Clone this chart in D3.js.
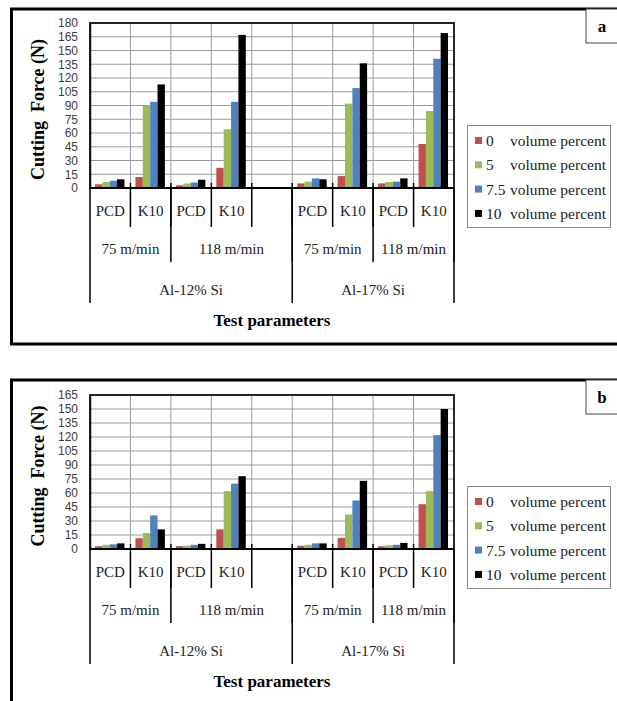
<!doctype html>
<html>
<head>
<meta charset="utf-8" />
<script src="https://cdnjs.cloudflare.com/ajax/libs/d3/7.8.5/d3.min.js"></script>
<style>
 body { margin: 0; background: #fff; }
 svg { display: block; }
 .serif { font-family: "Liberation Serif", "DejaVu Serif", serif; }
 .sans { font-family: "Liberation Sans", Arial, sans-serif; }
</style>
</head>
<body>
<script type="text/javascript">

 // category levels (empty slot between the two alloys)
 var tools = ["PCD", "K10", "PCD", "K10", "", "PCD", "K10", "PCD", "K10"];
 var speedLabels = ["75 m/min", "118 m/min", "75 m/min", "118 m/min"];
 var speedSpans = [2, 3, 2, 2];
 var alloyLabels = ["Al-12% Si", "Al-17% Si"];
 var alloySpans = [5, 4];

 var seriesNames = ["0", "5", "7.5", "10"];
 var seriesColors = ["#c0504d", "#9bbb59", "#4f81bd", "#000000"];

 // panel a
 var a0  = [4, 12, 3, 22, null, 5, 13, 5, 48];
 var a5  = [6.5, 90, 5, 64, null, 7, 92, 6.5, 84];
 var a75 = [8, 94, 6, 94, null, 10.5, 109, 7, 141];
 var a10 = [9.5, 113, 9, 167, null, 9.5, 136, 10.5, 169];
 var aTicks = d3.range(0, 181, 15);

 // panel b
 var b0  = [3, 11.5, 3, 21, null, 3.5, 12, 3, 48];
 var b5  = [4.5, 17, 3.5, 62, null, 4.5, 37, 4, 62];
 var b75 = [5, 36, 4.5, 70, null, 6, 52, 4.5, 122];
 var b10 = [6, 21, 5.5, 78, null, 6, 73, 6.5, 150];
 var bTicks = d3.range(0, 166, 15);

 var w = 617, h = 701;
 var svg = d3.select("body").append("svg")
	     .attr("width", w)
	     .attr("height", h);

 var draw_panel = function(top, bottom, y0, yTop, ticks, series, tag){
     var g = svg.append("g");

     // outer frame
     g.append("rect")
      .attr("x", 11.5).attr("y", top)
      .attr("width", 640).attr("height", bottom - top)
      .attr("fill", "none").attr("stroke", "#000").attr("stroke-width", 3);

     // tag box
     g.append("rect")
      .attr("x", 586).attr("y", top)
      .attr("width", 60).attr("height", 34)
      .attr("fill", "#fff").attr("stroke", "#444").attr("stroke-width", 1);
     g.append("text")
      .attr("class", "serif")
      .attr("x", 602).attr("y", top + 23)
      .attr("text-anchor", "middle")
      .attr("font-weight", "bold")
      .attr("font-size", 17).text(tag);

     var xScale = d3.scaleBand()
		    .domain(d3.range(tools.length))
		    .range([90, 454]);
     var bw = xScale.bandwidth();
     var x1 = d3.scaleBand()
		.domain(d3.range(series.length))
		.range([5, bw - 6]);
     var yScale = d3.scaleLinear()
		    .domain([0, d3.max(ticks)])
		    .range([y0, yTop]);

     // gridlines
     g.append("g").selectAll("line")
      .data(ticks.slice(1))
      .enter().append("line")
      .attr("x1", 90).attr("x2", 454)
      .attr("y1", function(d){ return yScale(d); })
      .attr("y2", function(d){ return yScale(d); })
      .attr("stroke", "#9a9a9a").attr("stroke-width", 1);
     g.append("g").selectAll("line")
      .data(d3.range(1, tools.length))
      .enter().append("line")
      .attr("x1", function(i){ return xScale(i); })
      .attr("x2", function(i){ return xScale(i); })
      .attr("y1", yTop).attr("y2", y0)
      .attr("stroke", "#9a9a9a").attr("stroke-width", 1);

     // plot border
     g.append("rect")
      .attr("x", 90).attr("y", yTop)
      .attr("width", 364).attr("height", y0 - yTop)
      .attr("fill", "none").attr("stroke", "#111").attr("stroke-width", 1.8);

     // bars (skip the empty slot)
     series.forEach(function(vals, s){
	 var pts = vals.map(function(v, i){ return {v: v, i: i}; })
		       .filter(function(p){ return p.v !== null; });
	 g.append("g").selectAll("rect")
	  .data(pts)
	  .enter()
	  .append("rect")
	  .attr("x", function(p){ return xScale(p.i) + x1(s); })
	  .attr("width", x1.bandwidth())
	  .attr("y", function(p){ return yScale(p.v); })
	  .attr("height", function(p){ return y0 - yScale(p.v); })
	  .attr("fill", seriesColors[s]);
     });

     // y axis
     var yAxis = d3.axisLeft(yScale).tickValues(ticks).tickSize(0).tickPadding(12);
     var ya = g.append("g").attr("transform", "translate(90,0)").call(yAxis);
     ya.attr("font-family", null).attr("font-size", null);
     ya.select(".domain").attr("stroke", "#111").attr("stroke-width", 1.5);
     ya.selectAll("text")
       .attr("class", "sans")
       .attr("font-size", 12).attr("fill", "#404040");

     g.append("text")
      .attr("class", "serif")
      .attr("transform", "translate(44," + ((y0 + yTop) / 2 + 4) + ") rotate(-90)")
      .attr("text-anchor", "middle")
      .attr("font-weight", "bold")
      .attr("font-size", 18)
      .style("white-space", "pre")
      .text("Cutting  Force (N)");

     // x axis line
     g.append("line")
      .attr("x1", 90).attr("x2", 454)
      .attr("y1", y0).attr("y2", y0)
      .attr("stroke", "#000").attr("stroke-width", 2);

     // level 1 separators and labels
     g.append("g").selectAll("line")
      .data(d3.range(1, tools.length))
      .enter().append("line")
      .attr("x1", function(i){ return xScale(i); })
      .attr("x2", function(i){ return xScale(i); })
      .attr("y1", y0 - 5).attr("y2", y0 + 39)
      .attr("stroke", "#000").attr("stroke-width", 1.5);
     g.append("g").selectAll("text")
      .data(tools)
      .enter().append("text")
      .attr("class", "serif")
      .attr("x", function(d, i){ return xScale(i) + bw / 2; })
      .attr("y", y0 + 28)
      .attr("text-anchor", "middle")
      .attr("font-size", 15).attr("fill", "#222")
      .text(function(d){ return d; });

     // level 2
     var pos = 0;
     speedLabels.forEach(function(lab, k){
	 var xa = xScale(pos), xb = xScale(pos + speedSpans[k] - 1) + bw;
	 pos += speedSpans[k];
	 g.append("line")
	  .attr("x1", xb).attr("x2", xb)
	  .attr("y1", y0).attr("y2", y0 + 74)
	  .attr("stroke", "#000").attr("stroke-width", 1.5);
	 g.append("text")
	  .attr("class", "serif")
	  .attr("x", (xa + xb) / 2).attr("y", y0 + 66)
	  .attr("text-anchor", "middle")
	  .attr("font-size", 15).attr("fill", "#222")
	  .text(lab);
     });

     // level 3
     pos = 0;
     var edges = [90];
     alloyLabels.forEach(function(lab, k){
	 var xa = xScale(pos), xb = xScale(pos + alloySpans[k] - 1) + bw;
	 pos += alloySpans[k];
	 edges.push(xb);
	 g.append("text")
	  .attr("class", "serif")
	  .attr("x", (xa + xb) / 2).attr("y", y0 + 107)
	  .attr("text-anchor", "middle")
	  .attr("font-size", 15).attr("fill", "#222")
	  .text(lab);
     });
     g.append("g").selectAll("line")
      .data(edges)
      .enter().append("line")
      .attr("x1", function(d){ return d; })
      .attr("x2", function(d){ return d; })
      .attr("y1", y0).attr("y2", y0 + 115)
      .attr("stroke", "#000").attr("stroke-width", 1.5);

     g.append("text")
      .attr("class", "serif")
      .attr("x", 272).attr("y", y0 + 138)
      .attr("text-anchor", "middle")
      .attr("font-weight", "bold")
      .attr("font-size", 17)
      .text("Test parameters");

     // legend
     var ly = y0 - 63;
     g.append("rect")
      .attr("x", 467.5).attr("y", ly + 0.5)
      .attr("width", 143).attr("height", 102)
      .attr("fill", "#fff").attr("stroke", "#8a8a8a").attr("stroke-width", 1);
     var items = g.append("g").selectAll("g")
		  .data(seriesNames)
		  .enter().append("g")
		  .attr("transform", function(d, i){ return "translate(0," + (ly + 16 + i * 24.3) + ")"; });
     items.append("rect")
	  .attr("x", 475).attr("y", -4)
	  .attr("width", 7).attr("height", 7)
	  .attr("fill", function(d, i){ return seriesColors[i]; });
     items.append("text")
	  .attr("class", "serif")
	  .attr("x", 486).attr("y", 5)
	  .attr("font-size", 15.5).attr("fill", "#222")
	  .text(function(d){ return d; });
     items.append("text")
	  .attr("class", "serif")
	  .attr("x", 510).attr("y", 5)
	  .attr("font-size", 15.5).attr("fill", "#222")
	  .text("volume percent");
 };

 draw_panel(9, 344, 188, 23, aTicks, [a0, a5, a75, a10], "a");
 draw_panel(380, 760, 549, 395, bTicks, [b0, b5, b75, b10], "b");

</script>
</body>
</html>
